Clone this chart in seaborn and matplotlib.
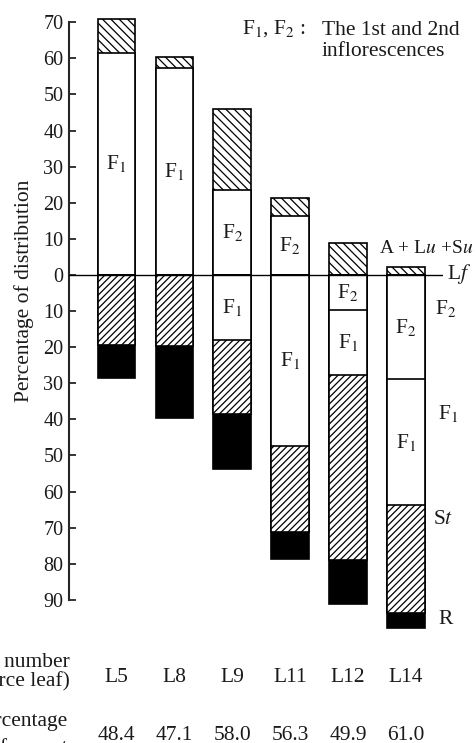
import matplotlib
matplotlib.use("Agg")
import matplotlib.pyplot as plt
import matplotlib.transforms as mtransforms
import seaborn as sns
import pandas as pd

# ---- data (percentages) ----
leaves = ["L5", "L8", "L9", "L11", "L12", "L14"]
export_pct = ["48.4", "47.1", "58.0", "56.3", "49.9", "61.0"]
# above the source leaf (Lf)
up_F1 = [61.5, 57.3, 0.0, 0.0, 0.0, 0.0]
up_F2 = [0.0, 0.0, 23.5, 16.3, 0.0, 0.0]
up_ALS = [9.5, 3.0, 22.5, 5.0, 8.8, 2.3]      # A + Lu + Su
# below the source leaf
down_F2 = [0.0, 0.0, 0.0, 0.0, 9.7, 28.9]
down_F1 = [0.0, 0.0, 18.0, 47.3, 18.0, 34.8]
down_St = [19.4, 19.6, 20.5, 23.8, 51.3, 29.9]
down_R = [9.1, 19.9, 15.3, 7.7, 12.0, 4.2]

sns.set_style("white")
plt.rcParams["font.family"] = ["Liberation Serif", "DejaVu Serif"]
plt.rcParams["mathtext.fontset"] = "stix"
plt.rcParams["hatch.linewidth"] = 0.9

TXT = "#1a1a1a"
FS = 15.5

df = pd.DataFrame({"leaf": leaves})
df["up_white"] = [a + b for a, b in zip(up_F1, up_F2)]
df["up_total"] = [a + b for a, b in zip(df["up_white"], up_ALS)]
df["dn_F2"] = [-v for v in down_F2]
df["dn_F1"] = [-(a + b) for a, b in zip(down_F2, down_F1)]
df["dn_St"] = [a - b for a, b in zip(df["dn_F1"], down_St)]
df["dn_R"] = [a - b for a, b in zip(df["dn_St"], down_R)]

W, H = 476, 743
fig = plt.figure(figsize=(W / 100, H / 100), dpi=100)
ax = fig.add_axes([69 / W, (H - 636) / H, 374 / W, 621 / H])

common = dict(data=df, x="leaf", order=leaves, width=0.65, saturation=1,
              edgecolor="black", linewidth=1.2, errorbar=None, ax=ax)

# above zero: hatched total, white inflorescence part on top
sns.barplot(y="up_total", color="white", hatch="\\\\\\\\", **common)
sns.barplot(y="up_white", color="white", **common)
# below zero: black R, hatched St, white F1, white F2
sns.barplot(y="dn_R", color="black", **common)
sns.barplot(y="dn_St", color="white", hatch="/////", **common)
sns.barplot(y="dn_F1", color="white", **common)
sns.barplot(y="dn_F2", color="white", **common)

ax.axhline(0, color="black", lw=1.0, zorder=5)

ax.set_xlim(-0.82, 5.64)
ax.set_ylim(-100, 72)
ax.set_xlabel("")
ax.set_xticks([])
ticks = list(range(-90, 71, 10))
ax.set_yticks(ticks)
ax.set_yticklabels([str(abs(t)) for t in ticks], color=TXT, fontsize=14.5)
ax.tick_params(axis="y", direction="in", length=5, width=1.3, pad=4, left=True)
for s in ["top", "right", "bottom"]:
    ax.spines[s].set_visible(False)
ax.spines["left"].set_bounds(-90, 70)
ax.spines["left"].set_linewidth(1.5)
ax.set_ylabel("Percentage of distribution", fontsize=FS, color=TXT)
ax.yaxis.set_label_coords((34 - 69) / 374, (636 - 291) / 621)

# labels inside bars
for i in range(len(leaves)):
    if up_F1[i] > 0:
        ax.text(i, up_F1[i] / 2, "F$_1$", ha="center", va="center", fontsize=FS, color=TXT)
    if up_F2[i] > 0:
        ax.text(i, up_F2[i] / 2, "F$_2$", ha="center", va="center", fontsize=FS, color=TXT)
    if down_F2[i] > 0:
        ax.text(i, -down_F2[i] / 2, "F$_2$", ha="center", va="center", fontsize=FS, color=TXT)
    if down_F1[i] > 0:
        ax.text(i, -(down_F2[i] + down_F1[i] / 2), "F$_1$", ha="center", va="center",
                fontsize=FS, color=TXT)

# figure pixel helper (top-left origin)
def px(x, y):
    return x / W, 1 - y / H

# legend note
fig.text(*px(242, 29), "F$_1$, F$_2$ :", ha="left", va="center", fontsize=FS, color=TXT)
fig.text(*px(322, 41), "The 1st and 2nd\ninflorescences", ha="left", va="center",
         fontsize=FS, color=TXT, linespacing=1.1)

# right-side component labels
fig.text(*px(379, 248), "A + L$\\it{u}$ +S$\\it{u}$", ha="left", va="center", fontsize=14, color=TXT)
fig.text(*px(447, 274), "L$\\it{f}$", ha="left", va="center", fontsize=FS, color=TXT)
fig.text(*px(435, 308), "F$_2$", ha="left", va="center", fontsize=FS, color=TXT)
fig.text(*px(438, 413), "F$_1$", ha="left", va="center", fontsize=FS, color=TXT)
fig.text(*px(433, 520), "S$\\it{t}$", ha="left", va="center", fontsize=FS, color=TXT)
fig.text(*px(438, 620), "R", ha="left", va="center", fontsize=FS, color=TXT)

# bottom rows
trans = mtransforms.blended_transform_factory(ax.transData, fig.transFigure)
for i, (lf, ex) in enumerate(zip(leaves, export_pct)):
    ax.text(i, 1 - 677 / H, lf, transform=trans, ha="center", va="center", fontsize=FS, color=TXT)
    ax.text(i, 1 - 735 / H, ex, transform=trans, ha="center", va="center", fontsize=FS, color=TXT)

fig.text(*px(70, 672), "(Leaf number\nof source leaf)", ha="right", va="center",
         fontsize=FS, color=TXT, linespacing=0.95, multialignment="right")
fig.text(*px(68, 735), "Percentage\nof export", ha="right", va="center",
         fontsize=FS, color=TXT, linespacing=1.5, multialignment="right")

fig.savefig("out.png", dpi=100, facecolor="white")
